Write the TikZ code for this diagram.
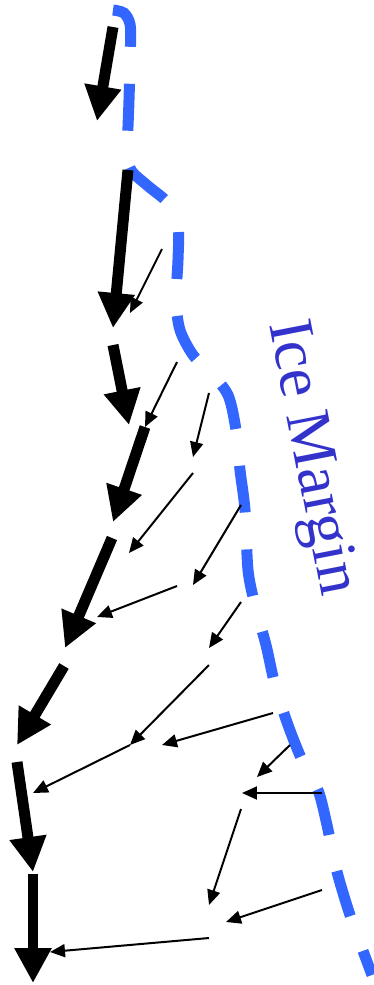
\documentclass[tikz,border=0pt]{standalone}
\usepackage{fontspec}
\setmainfont{Liberation Serif}
\usepackage{tikz}
\usetikzlibrary{arrows.meta}
\definecolor{iceline}{HTML}{3366FF}
\definecolor{icetext}{HTML}{3333CC}

\begin{document}
\begin{tikzpicture}[x=0.02cm,y=-0.02cm,
  trunk/.style={line width=0.22cm,-{Triangle[length=0.7cm,width=0.7cm]}},
  flow/.style={line width=0.04cm,-{Triangle[length=0.3cm,width=0.26cm]}}]
  \useasboundingbox (0,0) rectangle (374,985);
  % ice margin
  \draw[iceline,line width=0.22cm,dash pattern=on 0.94cm off 0.74cm]
    plot[smooth,tension=0.5] coordinates {(113,10) (124,13) (130,24) (130.5,45) (129,100)
      (127.5,150) (131,170) (148,186) (168,203) (178,225) (178,260) (176,300) (180,330)
      (193,355) (210,372) (228,395) (236,430) (240,470) (245,510) (248,570) (255,605)
      (266,645) (275,685) (288,725) (302,760) (318,790) (327,825) (336,868) (350,915)
      (372,975)};
  \node[icetext,rotate=-79,anchor=base west,font=\fontsize{36}{40}\selectfont]
    (margin) at (268,318) {Ice Margin};
  % main flow line
  \foreach \n/\xa/\ya/\xb/\yb in {1/113/27/97/121, 2/128/170/113/328, 3/113/345/129/425,
      4/145/427/113/522, 5/112/538/65/648, 6/64/666/17/745, 7/17/762/33/872, 8/33/874/33/983}
    {\coordinate (s\n) at (\xa,\ya);
     \coordinate (e\n) at (\xb,\yb);
     \draw[trunk] (s\n) -- (e\n);}
  % tributary flow
  \foreach \n/\xa/\ya/\xb/\yb in {a/162/249/130/313, b/177/362/145/427, c/209/393/193/457,
      d/193/473/129/553, e/241/505/193/585, f/177/586/97/617, g/241/602/209/648,
      h/209/665/130/745, i/130/745/33/793, j/273/713/162/745, k/290/745/257/777,
      l/322/793/242/793, m/241/809/209/905, n/322/890/226/922, o/209/938/50/952}
    {\coordinate (\n0) at (\xa,\ya);
     \coordinate (\n1) at (\xb,\yb);
     \draw[flow] (\n0) -- (\n1);}
\end{tikzpicture}
\end{document}
